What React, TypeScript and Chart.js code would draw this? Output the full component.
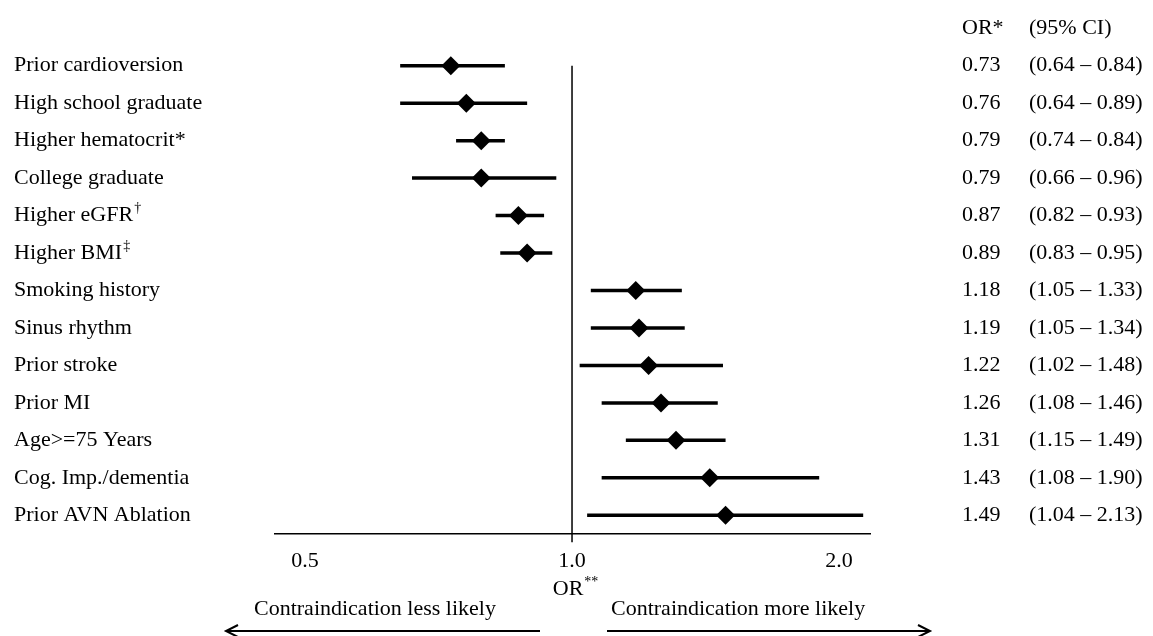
import React, { useEffect, useRef } from 'react';
import { Chart, registerables } from 'chart.js';

Chart.register(...registerables);

const labels = [
  'Prior cardioversion',
  'High school graduate',
  'Higher hematocrit*',
  'College graduate',
  'Higher eGFR',
  'Higher BMI',
  'Smoking history',
  'Sinus rhythm',
  'Prior stroke',
  'Prior MI',
  'Age>=75 Years',
  'Cog. Imp./dementia',
  'Prior AVN Ablation',
];
const labelSups = ['', '', '', '', '†', '‡', '', '', '', '', '', '', ''];
const oddsRatios = [0.73, 0.76, 0.79, 0.79, 0.87, 0.89, 1.18, 1.19, 1.22, 1.26, 1.31, 1.43, 1.49];
const ciLower = [0.64, 0.64, 0.74, 0.66, 0.82, 0.83, 1.05, 1.05, 1.02, 1.08, 1.15, 1.08, 1.04];
const ciUpper = [0.84, 0.89, 0.84, 0.96, 0.93, 0.95, 1.33, 1.34, 1.48, 1.46, 1.49, 1.9, 2.13];
const xTicks = [0.5, 1.0, 2.0];
const refValue = 1.0;
const headerOR = 'OR*';
const headerCI = '(95% CI)';
const axisTitle = 'OR';
const axisTitleSup = '**';
const leftNote = 'Contraindication less likely';
const rightNote = 'Contraindication more likely';

const FONT = '"Liberation Serif", "Times New Roman", serif';

export default function App() {
  const canvasRef = useRef<HTMLCanvasElement | null>(null);

  useEffect(() => {
    document.body.style.margin = '0';
    const canvas = canvasRef.current;
    if (!canvas) return;

    const textPlugin = {
      id: 'forestText',
      afterDraw(chart: any) {
        const ctx = chart.ctx as CanvasRenderingContext2D;
        const ys = chart.scales.y;
        const xs = chart.scales.x;
        ctx.save();
        ctx.fillStyle = '#000';
        ctx.textBaseline = 'middle';
        ctx.textAlign = 'left';
        const main = `22px ${FONT}`;
        const sup = `14px ${FONT}`;
        const orX = 962;
        const ciX = 1029;

        // header
        const hy = ys.getPixelForValue(0);
        ctx.font = main;
        ctx.fillText(headerOR, orX, hy);
        ctx.fillText(headerCI, ciX, hy);

        labels.forEach((lab, i) => {
          const y = ys.getPixelForValue(i + 1);
          ctx.font = main;
          ctx.fillText(lab, 14, y);
          if (labelSups[i]) {
            const w = ctx.measureText(lab).width;
            ctx.font = sup;
            ctx.fillText(labelSups[i], 14 + w + 1, y - 7);
          }
          ctx.font = main;
          ctx.fillText(oddsRatios[i].toFixed(2), orX, y);
          ctx.fillText(`(${ciLower[i].toFixed(2)} – ${ciUpper[i].toFixed(2)})`, ciX, y);
        });

        // axis title OR**
        const cx = xs.getPixelForValue(refValue);
        ctx.font = main;
        const tw = ctx.measureText(axisTitle).width;
        ctx.font = sup;
        const sw = ctx.measureText(axisTitleSup).width;
        const startX = cx + 3 - (tw + sw) / 2;
        ctx.font = main;
        ctx.fillText(axisTitle, startX, 589);
        ctx.font = sup;
        ctx.fillText(axisTitleSup, startX + tw + 1, 582);

        // notes
        ctx.font = main;
        ctx.fillText(leftNote, 254, 609);
        ctx.fillText(rightNote, 611, 609);

        // arrows
        ctx.strokeStyle = '#000';
        ctx.lineWidth = 2;
        const ay = 631;
        ctx.beginPath();
        ctx.moveTo(540, ay);
        ctx.lineTo(226, ay);
        ctx.moveTo(238, ay - 6);
        ctx.lineTo(226, ay);
        ctx.lineTo(238, ay + 6);
        ctx.moveTo(607, ay);
        ctx.lineTo(930, ay);
        ctx.moveTo(918, ay - 6);
        ctx.lineTo(930, ay);
        ctx.lineTo(918, ay + 6);
        ctx.stroke();
        ctx.restore();
      },
    };

    const ciDatasets = labels.map((_, i) => ({
      type: 'line' as const,
      data: [
        { x: ciLower[i], y: i + 1 },
        { x: ciUpper[i], y: i + 1 },
      ],
      showLine: true,
      borderColor: '#000',
      borderWidth: 3.5,
      borderCapStyle: 'butt' as const,
      pointRadius: 0,
      order: 2,
    }));

    const chart = new Chart(canvas, {
      type: 'scatter',
      data: {
        datasets: [
          {
            type: 'line',
            data: [
              { x: refValue, y: 1 },
              { x: refValue, y: 13.72 },
            ],
            showLine: true,
            borderColor: '#000',
            borderWidth: 1.5,
            pointRadius: 0,
            clip: false,
            order: 3,
          } as any,
          ...ciDatasets,
          {
            type: 'scatter',
            data: oddsRatios.map((v, i) => ({ x: v, y: i + 1 })),
            pointStyle: 'rectRot',
            pointRadius: 9.5,
            backgroundColor: '#000',
            borderColor: '#000',
            borderWidth: 0,
            order: 1,
          } as any,
        ],
      },
      options: {
        animation: false,
        responsive: false,
        maintainAspectRatio: false,
        layout: { padding: { left: 275, right: 283, top: 5, bottom: 0 } },
        plugins: { legend: { display: false }, tooltip: { enabled: false } },
        scales: {
          x: {
            type: 'logarithmic',
            min: 0.4624,
            max: 2.168,
            bounds: 'data',
            grid: { display: false, drawTicks: false },
            border: { display: true, color: '#000', width: 1.5 },
            afterBuildTicks: (scale: any) => {
              scale.ticks = xTicks.map((v) => ({ value: v }));
            },
            afterFit: (scale: any) => {
              scale.height = 102;
            },
            ticks: {
              color: '#000',
              font: { family: FONT, size: 22 },
              padding: 14,
              autoSkip: false,
              maxRotation: 0,
              callback: (v: any) => Number(v).toFixed(1),
            },
          },
          y: {
            type: 'linear',
            display: false,
            min: -0.5,
            max: 13.5,
            reverse: true,
          },
        },
      } as any,
      plugins: [textPlugin],
    });

    return () => chart.destroy();
  }, []);

  return (
    <div style={{ position: 'absolute', left: 0, top: 0, width: 1153, height: 636 }}>
      <canvas ref={canvasRef} width={1153} height={636} style={{ display: 'block' }} />
    </div>
  );
}
